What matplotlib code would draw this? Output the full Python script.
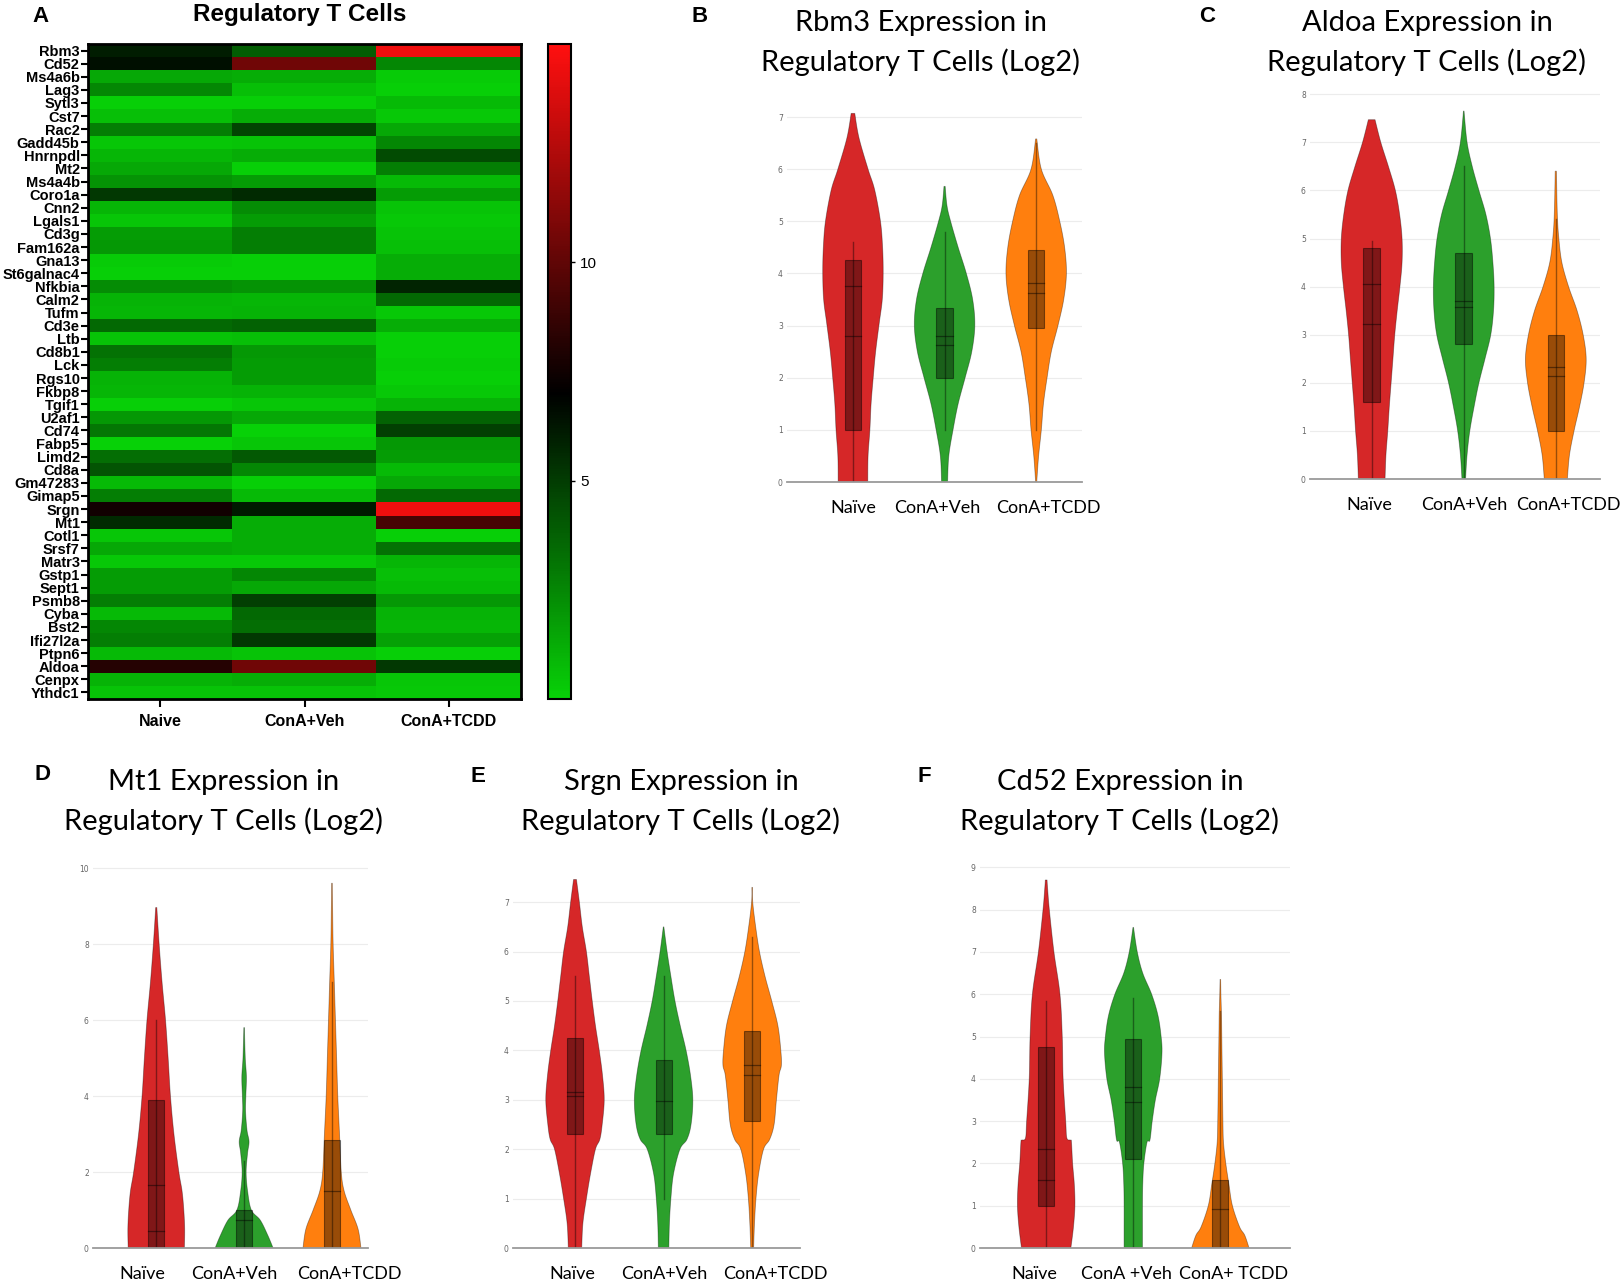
import numpy as np
import matplotlib
matplotlib.use("Agg")
import matplotlib.pyplot as plt
from matplotlib.colors import LinearSegmentedColormap
from matplotlib.patches import Rectangle

W, H = 1624, 1284

# ---------------- Heatmap data ----------------
genes = ["Rbm3", "Cd52", "Ms4a6b", "Lag3", "Sytl3", "Cst7", "Rac2", "Gadd45b", "Hnrnpdl", "Mt2",
         "Ms4a4b", "Coro1a", "Cnn2", "Lgals1", "Cd3g", "Fam162a", "Gna13", "St6galnac4", "Nfkbia", "Calm2",
         "Tufm", "Cd3e", "Ltb", "Cd8b1", "Lck", "Rgs10", "Fkbp8", "Tgif1", "U2af1", "Cd74",
         "Fabp5", "Limd2", "Cd8a", "Gm47283", "Gimap5", "Srgn", "Mt1", "Cotl1", "Srsf7", "Matr3",
         "Gstp1", "Sept1", "Psmb8", "Cyba", "Bst2", "Ifi27l2a", "Ptpn6", "Aldoa", "Cenpx", "Ythdc1"]
heat_groups = ["Naive", "ConA+Veh", "ConA+TCDD"]
naive_expr = [6.0, 6.5, 1.4, 2.5, 0.1, 0.6, 2.8, 0.4, 0.9, 1.4,
              2.1, 5.1, 0.9, 0.4, 1.8, 1.9, 0.2, 0.1, 2.3, 1.0,
              0.9, 3.5, 0.5, 3.2, 2.8, 1.0, 0.9, 0.1, 1.9, 3.0,
              0.0, 3.3, 4.2, 0.8, 2.8, 7.6, 5.6, 0.4, 1.4, 0.3,
              1.8, 1.8, 2.8, 0.8, 2.5, 2.8, 0.8, 8.2, 1.0, 0.5]
veh_expr = [3.9, 10.5, 1.2, 0.6, 0.1, 1.2, 4.7, 0.5, 1.2, 0.1,
            1.8, 5.6, 2.3, 1.8, 2.8, 2.8, 0.1, 0.1, 2.1, 0.9,
            1.0, 3.7, 0.6, 1.9, 1.8, 1.8, 1.0, 0.4, 1.4, 0.0,
            0.4, 4.0, 2.5, 0.1, 0.8, 6.1, 1.2, 1.2, 1.2, 0.3,
            2.5, 1.4, 4.9, 3.5, 3.3, 5.1, 0.5, 10.5, 1.2, 0.5]
tcdd_expr = [14.5, 2.5, 0.2, 0.1, 0.8, 0.3, 1.4, 2.5, 4.5, 2.8,
             0.8, 1.8, 0.5, 0.3, 0.5, 0.6, 1.2, 1.2, 5.8, 3.5,
             0.3, 1.2, 0.1, 0.1, 0.2, 0.1, 0.3, 1.0, 3.7, 4.9,
             1.9, 1.8, 0.8, 1.4, 3.5, 14.5, 9.2, 0.1, 3.2, 0.9,
             0.6, 0.8, 1.9, 1.0, 0.9, 1.6, 0.1, 5.1, 0.4, 0.3]
cbar_ticks = [5, 10]

# ---------------- Violin data (outline profiles) ----------------
vgroups = ["Naïve", "ConA+Veh", "ConA+TCDD"]
vgroups_f = ["Naïve", "ConA +Veh", "ConA+ TCDD"]

# Rbm3
rbm3_naive_y = [0, 0.5, 1, 1.5, 2, 2.5, 3.05, 3.5, 4, 4.5, 5, 5.6, 6, 6.6, 7.07]
rbm3_naive_w = [0.49, 0.5, 0.56, 0.6, 0.67, 0.75, 0.87, 0.97, 1.0, 0.98, 0.91, 0.72, 0.5, 0.2, 0.06]
rbm3_veh_y = [0, 0.5, 1, 1.5, 2, 2.5, 3, 3.5, 4, 4.5, 5, 5.3, 5.67]
rbm3_veh_w = [0.1, 0.14, 0.28, 0.45, 0.68, 0.9, 1.0, 0.93, 0.72, 0.45, 0.2, 0.08, 0.02]
rbm3_tcdd_y = [0, 0.1, 0.5, 1, 1.5, 2, 2.5, 3, 3.5, 4, 4.5, 5, 5.5, 6, 6.58]
rbm3_tcdd_w = [0.02, 0.03, 0.08, 0.17, 0.24, 0.36, 0.5, 0.72, 0.91, 1.0, 0.94, 0.78, 0.55, 0.17, 0.02]
# box stats: q1, q3, inner lines, whisker low, whisker high
rbm3_box = [(1.0, 4.25, [3.75, 2.8], 0.0, 4.6),
            (2.0, 3.33, [2.8, 2.62], 1.0, 4.8),
            (2.95, 4.45, [3.82, 3.62], 1.0, 6.5)]

# Aldoa
aldoa_naive_y = [0, 0.5, 1, 1.5, 2, 2.5, 3, 3.5, 4, 4.5, 5, 5.5, 6, 6.5, 7, 7.47]
aldoa_naive_w = [0.44, 0.47, 0.53, 0.58, 0.64, 0.7, 0.76, 0.84, 0.93, 1.0, 1.0, 0.92, 0.78, 0.55, 0.3, 0.11]
aldoa_veh_y = [0, 0.5, 1, 1.5, 2, 2.5, 3, 3.5, 4, 4.5, 5, 5.5, 6, 6.5, 7, 7.65]
aldoa_veh_w = [0.06, 0.11, 0.2, 0.34, 0.5, 0.7, 0.89, 0.98, 1.0, 0.96, 0.88, 0.73, 0.5, 0.28, 0.11, 0.01]
aldoa_tcdd_y = [0, 0.5, 1, 1.5, 2, 2.5, 3, 3.5, 4, 4.5, 5, 5.5, 6.4]
aldoa_tcdd_w = [0.38, 0.45, 0.6, 0.78, 0.93, 1.0, 0.9, 0.7, 0.42, 0.2, 0.1, 0.05, 0.02]
aldoa_box = [(1.6, 4.8, [4.05, 3.22], 0.0, 4.95),
             (2.8, 4.7, [3.7, 3.58], 0.0, 6.5),
             (1.0, 3.0, [2.32, 2.15], 0.0, 5.4)]

# Mt1
mt1_naive_y = [0, 0.5, 1, 1.5, 2, 3, 4, 5, 6, 7, 8, 8.96]
mt1_naive_w = [0.97, 0.98, 0.95, 0.89, 0.78, 0.61, 0.49, 0.41, 0.32, 0.2, 0.1, 0.02]
mt1_veh_y = [0, 0.33, 0.73, 1.0, 1.5, 2.0, 2.5, 2.8, 3.1, 3.6, 4.0, 4.5, 5.0, 5.8]
mt1_veh_w = [1.0, 0.82, 0.56, 0.25, 0.12, 0.07, 0.12, 0.17, 0.1, 0.05, 0.06, 0.08, 0.04, 0.01]
mt1_tcdd_y = [0, 0.5, 1, 1.5, 2, 3, 4, 5, 6, 7, 8, 9, 9.6]
mt1_tcdd_w = [1.0, 0.9, 0.65, 0.42, 0.32, 0.26, 0.2, 0.16, 0.12, 0.08, 0.04, 0.02, 0.01]
mt1_box = [(0.0, 3.9, [1.65, 0.45], 0.0, 6.0),
           (0.0, 1.0, [0.75], 0.0, 2.3),
           (0.0, 2.85, [1.5], 0.0, 7.0)]

# Srgn
srgn_naive_y = [0, 0.5, 1, 1.5, 2, 2.2, 2.5, 3, 3.5, 4, 4.5, 5, 5.5, 6, 6.5, 7, 7.46]
srgn_naive_w = [0.23, 0.27, 0.39, 0.53, 0.7, 0.85, 0.93, 1.0, 0.94, 0.83, 0.7, 0.59, 0.49, 0.39, 0.25, 0.15, 0.05]
srgn_veh_y = [0, 0.5, 1, 1.5, 2, 2.2, 2.5, 3, 3.5, 4, 4.5, 5, 5.5, 6, 6.5]
srgn_veh_w = [0.18, 0.2, 0.25, 0.34, 0.56, 0.8, 0.94, 1.0, 0.92, 0.77, 0.57, 0.39, 0.25, 0.12, 0.01]
srgn_tcdd_y = [0, 0.5, 1, 1.5, 2, 2.2, 2.5, 3, 3.5, 3.7, 4, 4.5, 5, 5.5, 6, 6.5, 7, 7.3]
srgn_tcdd_w = [0.05, 0.08, 0.13, 0.22, 0.39, 0.6, 0.75, 0.83, 0.92, 1.0, 0.98, 0.88, 0.67, 0.44, 0.25, 0.12, 0.02, 0.01]
srgn_box = [(2.3, 4.25, [3.15, 3.08], 0.0, 5.5),
            (2.3, 3.8, [2.98], 1.0, 5.5),
            (2.58, 4.4, [3.7, 3.5], 0.0, 6.3)]

# Cd52
cd52_naive_y = [0, 0.5, 1, 1.5, 2, 2.5, 2.55, 2.6, 3, 4, 5, 6, 7, 8, 8.5, 8.7]
cd52_naive_w = [0.86, 0.95, 1.0, 0.98, 0.92, 0.88, 0.85, 0.72, 0.68, 0.59, 0.56, 0.48, 0.27, 0.11, 0.05, 0.03]
cd52_veh_y = [0, 0.5, 1, 1.5, 2, 2.5, 2.55, 3, 3.5, 4, 4.6, 5, 5.5, 6, 6.5, 7, 7.58]
cd52_veh_w = [0.32, 0.32, 0.32, 0.33, 0.37, 0.48, 0.58, 0.66, 0.77, 0.92, 1.0, 0.97, 0.86, 0.64, 0.33, 0.14, 0.01]
cd52_tcdd_y = [0, 0.3, 0.5, 1, 1.5, 2, 2.5, 3, 4, 5, 5.5, 6, 6.35]
cd52_tcdd_w = [1.0, 0.85, 0.67, 0.42, 0.3, 0.19, 0.11, 0.09, 0.07, 0.05, 0.04, 0.02, 0.01]
cd52_box = [(1.0, 4.75, [2.35, 1.6], 0.0, 5.85),
            (2.1, 4.95, [3.8, 3.45], 0.0, 5.9),
            (0.0, 1.6, [0.92], 0.0, 5.6)]

vcolors = ["#d62728", "#2ca02c", "#ff7f0e"]

# ---------------- Figure ----------------
fig = plt.figure(figsize=(W / 100, H / 100), dpi=100)


def add_ax(left, right, top, bottom):
    return fig.add_axes([left / W, 1 - bottom / H, (right - left) / W, (bottom - top) / H])


def smooth_outline(py, pw, n=12):
    """Catmull-Rom curve through the read outline points (drawing only)."""
    P = np.column_stack([py, pw]).astype(float)
    P = np.vstack([P[0], P, P[-1]])
    out = []
    for k in range(1, len(P) - 2):
        p0, p1, p2, p3 = P[k - 1], P[k], P[k + 1], P[k + 2]
        t = np.linspace(0, 1, n, endpoint=False)[:, None]
        seg = 0.5 * ((2 * p1) + (-p0 + p2) * t + (2 * p0 - 5 * p1 + 4 * p2 - p3) * t ** 2
                     + (-p0 + 3 * p1 - 3 * p2 + p3) * t ** 3)
        out.append(seg)
    out.append(P[-2][None, :])
    out = np.vstack(out)
    ys = np.clip(out[:, 0], py[0], py[-1])
    ws = np.clip(out[:, 1], 0, None)
    return ys, ws


# ---- Panel A heatmap ----
cmap = LinearSegmentedColormap.from_list(
    "gbr", [(0.0, (0.03, 0.82, 0.03)), (7.0 / 15, (0, 0, 0)), (1.0, (1.0, 0.06, 0.06))])
mat = np.array([naive_expr, veh_expr, tcdd_expr]).T
axh = add_ax(88, 521, 44, 699)
im = axh.imshow(mat, aspect="auto", cmap=cmap, vmin=0, vmax=15, interpolation="nearest")
axh.set_yticks(range(len(genes)))
axh.set_yticklabels(genes, fontsize=10.5, fontweight="bold", family="Liberation Sans")
axh.set_xticks(range(3))
axh.set_xticklabels(heat_groups, fontsize=11.5, fontweight="bold", family="Liberation Sans")
axh.tick_params(axis="y", length=5, width=1.5, pad=1)
axh.tick_params(axis="x", length=6, width=1.5, pad=5)
for s in axh.spines.values():
    s.set_linewidth(2)
fig.text(300 / W, 1 - 14 / H, "Regulatory T Cells", ha="center", va="center", fontsize=17.5,
         fontweight="bold", family="Liberation Sans")

cax = add_ax(548, 571, 44, 699)
cb = fig.colorbar(im, cax=cax, ticks=cbar_ticks)
cb.outline.set_linewidth(1.5)
cax.tick_params(labelsize=11, length=3, width=1)
for t in cax.get_yticklabels():
    t.set_family("Liberation Sans")


# ---- Violin panels ----
def violin_panel(left, right, y0, ppu, ymax, xmin, xmax, profiles, boxes, labels, label_shift, yticks):
    ax = add_ax(left, right, y0 - ymax * ppu, y0)
    ax.set_xlim(xmin, xmax)
    ax.set_ylim(0, ymax)
    for yt in yticks:
        if yt > 0:
            ax.axhline(yt, color="#ececec", lw=0.8, zorder=0)
    ax.axhline(0, color="#9a9a9a", lw=1.3, zorder=5, clip_on=False)
    half = 0.33
    for i, ((py, pw), box, col) in enumerate(zip(profiles, boxes, vcolors)):
        ys, ws = smooth_outline(py, pw)
        ws = ws * half
        yy = np.concatenate([ys, ys[::-1]])
        xx = np.concatenate([i - ws, (i + ws)[::-1]])
        ax.fill(xx, yy, facecolor=col, edgecolor=(0, 0, 0, 0.35), lw=0.6, zorder=2)
        q1, q3, lines, lo, hi = box
        ax.plot([i, i], [lo, hi], color=(0, 0, 0, 0.4), lw=1.0, zorder=3)
        bw = 0.09
        ax.add_patch(Rectangle((i - bw, q1), 2 * bw, q3 - q1, facecolor=(0, 0, 0, 0.4),
                               edgecolor=(0, 0, 0, 0.45), lw=0.8, zorder=4))
        for ln in lines:
            ax.plot([i - bw, i + bw], [ln, ln], color=(0, 0, 0, 0.45), lw=0.9, zorder=4)
    for s in ax.spines.values():
        s.set_visible(False)
    ax.set_yticks(yticks)
    ax.set_yticklabels([str(v) for v in yticks], fontsize=5.5, color="#666666")
    ax.tick_params(axis="y", length=0, pad=3)
    ax.set_xticks([i + d for i, d in enumerate(label_shift)])
    ax.set_xticklabels(labels, fontsize=13, family="Lato")
    ax.tick_params(axis="x", length=0, pad=13)
    return ax


violin_panel(787, 1082, 482, 52.14, 7.25, -0.72, 2.5,
             [(rbm3_naive_y, rbm3_naive_w), (rbm3_veh_y, rbm3_veh_w), (rbm3_tcdd_y, rbm3_tcdd_w)],
             rbm3_box, vgroups, [0.0, -0.075, 0.13], list(range(0, 8)))
violin_panel(1310, 1600, 479, 48.1, 8.05, -0.67, 2.48,
             [(aldoa_naive_y, aldoa_naive_w), (aldoa_veh_y, aldoa_veh_w), (aldoa_tcdd_y, aldoa_tcdd_w)],
             aldoa_box, vgroups, [-0.03, 0.01, 0.14], list(range(0, 9)))
violin_panel(93, 368, 1248, 38.0, 10.05, -0.72, 2.41,
             [(mt1_naive_y, mt1_naive_w), (mt1_veh_y, mt1_veh_w), (mt1_tcdd_y, mt1_tcdd_w)],
             mt1_box, vgroups, [-0.16, -0.11, 0.2], [0, 2, 4, 6, 8, 10])
violin_panel(513, 800, 1248, 49.4, 7.55, -0.7, 2.54,
             [(srgn_naive_y, srgn_naive_w), (srgn_veh_y, srgn_veh_w), (srgn_tcdd_y, srgn_tcdd_w)],
             srgn_box, vgroups, [-0.03, 0.01, 0.26], list(range(0, 8)))
violin_panel(980, 1290, 1248, 42.3, 9.05, -0.76, 2.8,
             [(cd52_naive_y, cd52_naive_w), (cd52_veh_y, cd52_veh_w), (cd52_tcdd_y, cd52_tcdd_w)],
             cd52_box, vgroups_f, [-0.14, -0.08, 0.15], list(range(0, 10)))

# ---- Titles ----
titles = [("Rbm3", 921, 23), ("Aldoa", 1427, 23), ("Mt1", 224, 782), ("Srgn", 681, 782), ("Cd52", 1120, 782)]
for gene, cx, ty in titles:
    fig.text(cx / W, 1 - ty / H, f"{gene} Expression in", ha="center", va="center",
             fontsize=21, family="Lato")
    fig.text(cx / W, 1 - (ty + 39) / H, "Regulatory T Cells (Log2)", ha="center", va="center",
             fontsize=21, family="Lato")

letters = [("A", 41, 16), ("B", 700, 16), ("C", 1207, 16), ("D", 43, 775), ("E", 478, 777), ("F", 924, 777)]
for L, lx, ly in letters:
    fig.text(lx / W, 1 - ly / H, L, ha="center", va="center", fontsize=16, fontweight="bold",
             family="Liberation Sans")

fig.savefig("out.png", dpi=100)
